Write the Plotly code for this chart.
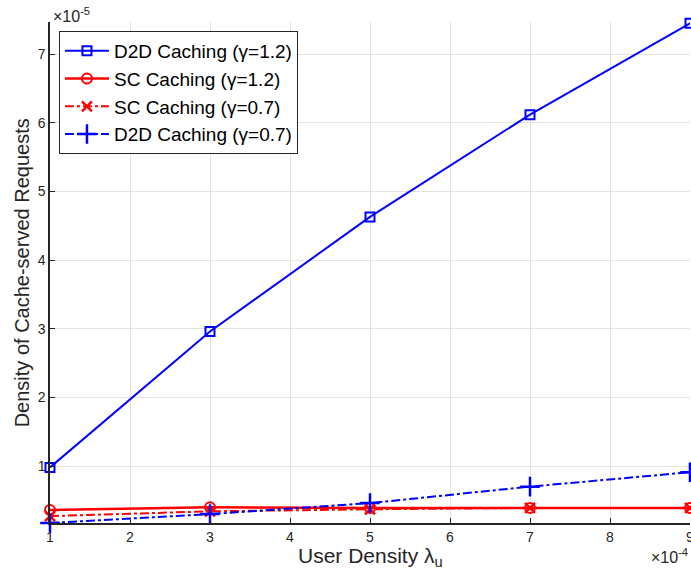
import plotly.graph_objects as go

x_vals = [1, 3, 5, 7, 9]
d2d_12 = [0.98, 2.96, 4.63, 6.12, 7.45]
sc_12 = [0.36, 0.40, 0.39, 0.39, 0.39]
sc_07 = [0.27, 0.34, 0.37, 0.39, 0.39]
d2d_07 = [0.17, 0.30, 0.46, 0.70, 0.91]

x_ticks = [1, 2, 3, 4, 5, 6, 7, 8, 9]
y_ticks = [1, 2, 3, 4, 5, 6, 7]

names = ["D2D Caching (γ=1.2)", "SC Caching (γ=1.2)", "SC Caching (γ=0.7)", "D2D Caching (γ=0.7)"]

fig = go.Figure()
fig.add_trace(go.Scatter(x=x_vals, y=d2d_12, name=names[0], mode="lines+markers", cliponaxis=False,
                         line=dict(color="#0000ff", width=2),
                         marker=dict(symbol="square-open", size=9, color="#0000ff", line=dict(width=2, color="#0000ff"))))
fig.add_trace(go.Scatter(x=x_vals, y=sc_12, name=names[1], mode="lines+markers", cliponaxis=False,
                         line=dict(color="#ff0000", width=2.5),
                         marker=dict(symbol="circle-open", size=10, color="#ff0000", line=dict(width=2, color="#ff0000"))))
fig.add_trace(go.Scatter(x=x_vals, y=sc_07, name=names[2], mode="lines+markers", cliponaxis=False,
                         line=dict(color="#ff0000", width=2, dash="dashdot"),
                         marker=dict(symbol="x-thin", size=10, color="#ff0000", line=dict(width=2.5, color="#ff0000"))))
fig.add_trace(go.Scatter(x=x_vals, y=d2d_07, name=names[3], mode="lines+markers", cliponaxis=False,
                         line=dict(color="#0000ff", width=2, dash="dashdot"),
                         marker=dict(symbol="cross-thin", size=14, color="#0000ff", line=dict(width=2.5, color="#0000ff"))))

axis_common = dict(showgrid=True, gridcolor="#e3e3e3", gridwidth=1, zeroline=False,
                   showline=True, linecolor="#262626", linewidth=1.5,
                   ticks="inside", ticklen=5, tickcolor="#262626", automargin=False,
                   ticklabeloverflow="allow",
                   tickfont=dict(family="Liberation Sans, Arial, sans-serif", size=14, color="#262626"))

fig.update_xaxes(range=[1, 9], tickvals=x_ticks, ticktext=[str(v) for v in x_ticks], **axis_common)
fig.update_yaxes(range=[0.17, 7.47], tickvals=y_ticks, ticktext=[str(v) for v in y_ticks], **axis_common)

fig.update_layout(
    width=691, height=576,
    margin=dict(l=50, r=1, t=22, b=53, autoexpand=False),
    plot_bgcolor="white", paper_bgcolor="white",
    font=dict(family="Liberation Sans, Arial, sans-serif", color="#262626"),
    legend=dict(x=0.014, y=0.982, xanchor="left", yanchor="top",
                bgcolor="white", bordercolor="#262626", borderwidth=1,
                font=dict(size=19, color="black"), tracegroupgap=0, itemwidth=44),
    showlegend=True,
)

fig.add_annotation(text="User Density λ<sub>u</sub>", xref="paper", yref="paper", x=0.5, y=-0.038,
                   xanchor="center", yanchor="top", showarrow=False,
                   font=dict(size=21, color="#262626"))
fig.add_annotation(text="Density of Cache-served Requests", xref="paper", yref="paper", x=-0.044, y=0.5,
                   xanchor="center", yanchor="middle", textangle=-90, showarrow=False,
                   font=dict(size=20, color="#262626"))
fig.add_annotation(text="×10<sup>-5</sup>", xref="paper", yref="paper", x=0.0, y=1.0,
                   xanchor="left", yanchor="bottom", showarrow=False, yshift=-5, xshift=1,
                   font=dict(size=16, color="#262626"))
fig.add_annotation(text="×10<sup>-4</sup>", xref="paper", yref="paper", x=1.0, y=-0.042,
                   xanchor="right", yanchor="top", showarrow=False,
                   font=dict(size=16, color="#262626"))

# Remove the default page margin so the 691x576 figure fills the window exactly.
post = ("document.documentElement.style.margin='0';document.documentElement.style.overflow='hidden';"
        "document.body.style.margin='0';document.body.style.overflow='hidden';")
fig.write_html("out.html", post_script=post, config={"displayModeBar": False})
